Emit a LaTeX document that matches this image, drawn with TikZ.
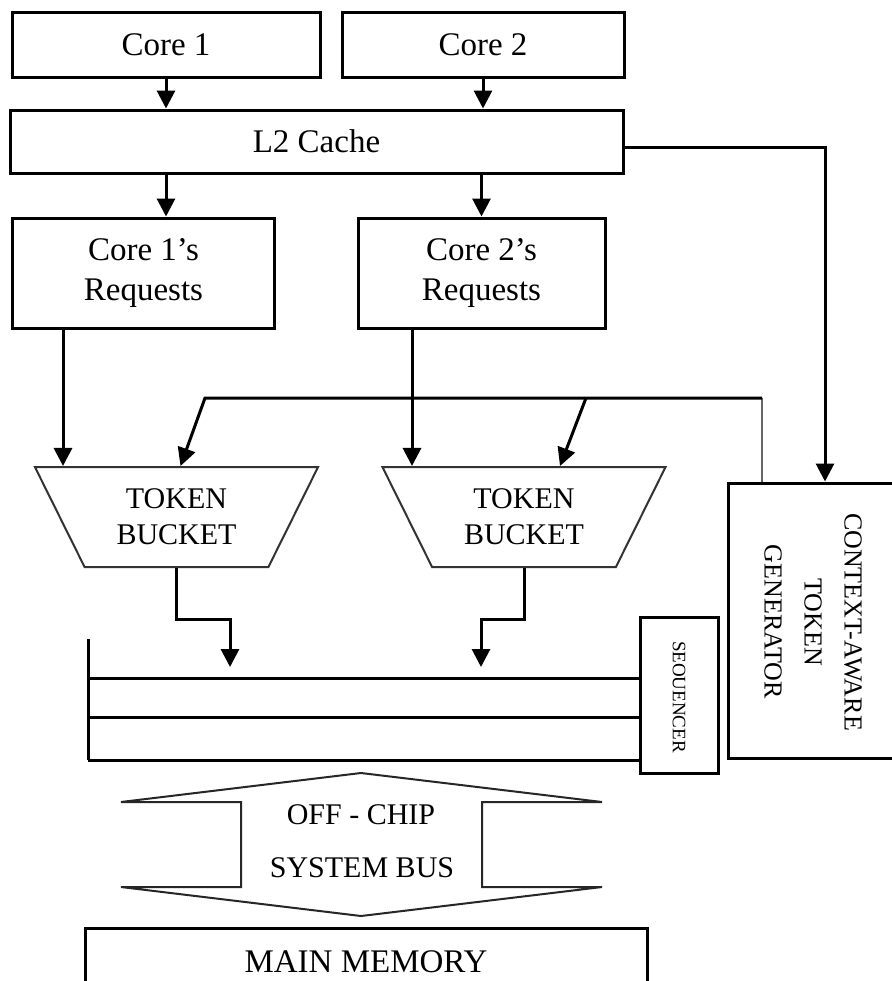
\documentclass[tikz,border=0pt]{standalone}
\usepackage{fontspec}
\setmainfont{Liberation Serif}
\usetikzlibrary{positioning,shapes.geometric,arrows.meta}

\begin{document}
\begin{tikzpicture}
[
x=0.5pt, y=-0.5pt,
>={Triangle[length=9pt,width=9pt]},
wire/.style={line width=1.5pt},
thin-wire/.style={line width=1pt, draw=black!60},
box-a/.style={draw, line width=1.5pt, inner sep=0pt, align=center, font=\fontsize{16.5}{20}\selectfont},
bucket-a/.style={trapezium, shape border rotate=180, trapezium angle=60, trapezium stretches=true,
  draw=black!80, line width=1pt, minimum width=142pt, minimum height=50pt, inner sep=0pt,
  align=center, font=\fontsize{15}{18}\selectfont},
text-a/.style={font=\fontsize{15}{18}\selectfont}
]
\useasboundingbox (0,0) rectangle (892,981);
\clip (0,0) rectangle (892,981);

\node (core-1)      [box-a, minimum width=154pt, minimum height=32.5pt] at (166,44.5)  {Core 1};
\node (core-2)      [box-a, minimum width=141pt, minimum height=32.5pt] at (483,44.5)  {Core 2};
\node (l2-cache)    [box-a, minimum width=306.5pt, minimum height=31.5pt] at (316.5,141.5) {L2 Cache};
\node (req-1)       [box-a, minimum width=131pt, minimum height=55pt] at (143.5,273) {Core 1's\\Requests};
\node (req-2)       [box-a, minimum width=123.5pt, minimum height=55pt] at (481.5,273) {Core 2's\\Requests};
\node (bucket-1)    [bucket-a] at (176.5,517) {TOKEN\\BUCKET};
\node (bucket-2)    [bucket-a] at (524,517)   {TOKEN\\BUCKET};
\node (context-gen) [box-a, minimum width=101pt, minimum height=137.5pt] at (829,620.5) {};
\node (context-txt) [rotate=-90, align=center, font=\fontsize{13}{20}\selectfont] at (813,622)
  {CONTEXT-AWARE\\TOKEN\\GENERATOR};
\node (sequencer)   [box-a, minimum width=39pt, minimum height=78pt] at (679,695) {};
\node (seq-txt)     [rotate=-90, font=\fontsize{9.5}{11}\selectfont] at (679,697) {SEOUENCER};
\node (main-mem)    [box-a, minimum width=281pt, minimum height=36pt] at (366,964) {};
\node (main-txt)    [font=\fontsize{16.5}{20}\selectfont] at (366,962) {MAIN MEMORY};
\node (bus-txt-1)   [text-a] at (361,815) {OFF - CHIP};
\node (bus-txt-2)   [text-a] at (362,868) {SYSTEM BUS};

% connectors
\coordinate (req-1-out) at (63,328);
\coordinate (req-2-out) at (412,328);
\coordinate (fb-corner) at (205,398);
\coordinate (fb-split)  at (586,398);
\coordinate (fb-end)    at (762,398);
\coordinate (bus-in-1)  at (230,667);
\coordinate (bus-in-2)  at (481,667);

\draw [wire, ->] (core-1.south) -- (core-1.south |- l2-cache.north);
\draw [wire, ->] (core-2.south) -- (core-2.south |- l2-cache.north);
\draw [wire, ->] (l2-cache.south -| core-1) -- (req-1.north -| core-1);
\draw [wire, ->] (l2-cache.south -| req-2) -- (req-2.north);
\draw [wire, ->] ([yshift=-3pt]l2-cache.east) -| ([xshift=-2pt]context-gen.north);
\draw [wire, ->] (req-1-out) -- (req-1-out |- bucket-1.north);
\draw [wire, ->] (req-2-out) -- (req-2-out |- bucket-2.north);
\draw [thin-wire] (fb-end |- context-gen.north) -- (fb-end);
\draw [wire, ->] (fb-end) -- (fb-corner) -- ([xshift=2pt]bucket-1.north);
\draw [wire, ->] (fb-split) -- ([xshift=18pt]bucket-2.north);
\draw [wire, ->] (bucket-1.south) -- ++(0,51) -| (bus-in-1);
\draw [wire, ->] (bucket-2.south) -- ++(0,51) -| (bus-in-2);

% bus lines
\draw [wire] (88,639) -- (88,760);
\foreach \y in {678,717,760}
  \draw [wire] (88,\y) -- (sequencer.west |- 0,\y);

% off-chip bus arrow
\draw [line width=1pt, black!85] (121,802) -- (241,802) -- (241,887) -- (121,887) -- (361,916)
  -- (602,887) -- (482,887) -- (482,802) -- (602,802) -- (361,773) -- cycle;
\end{tikzpicture}
\end{document}
